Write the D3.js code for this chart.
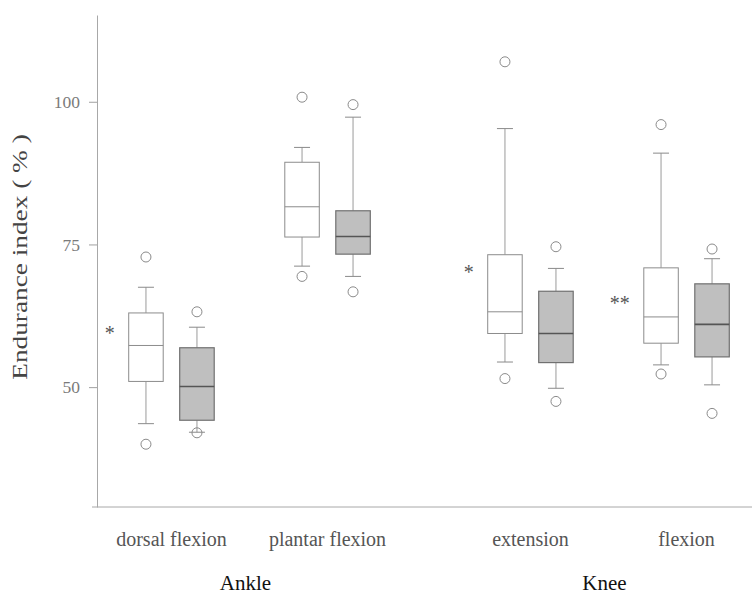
<!DOCTYPE html>
<html>
<head>
<meta charset="utf-8">
<script src="https://cdn.jsdelivr.net/npm/d3@7"></script>
<style>
  html, body { margin: 0; padding: 0; background: #fff; }
  svg { display: block; }
</style>
</head>
<body>
<svg id="chart" width="752" height="594"></svg>
<script>
// ---- data ----
const categories = ["dorsal flexion", "plantar flexion", "extension", "flexion"];
const joints = ["Ankle", "Ankle", "Knee", "Knee"];
const jointNames = ["Ankle", "Knee"];
const groups = ["white", "grey"];
const yTicks = [50, 75, 100];
const yTitle = "Endurance index ( % )";

// per category: [lowWhisker, q1, median, q3, highWhisker]
const whiteStats = [
  [43.6, 51.0, 57.3, 63.0, 67.5],
  [71.2, 76.3, 81.6, 89.4, 92.0],
  [54.4, 59.4, 63.2, 73.2, 95.3],
  [53.9, 57.7, 62.3, 70.9, 91.0]
];
const whiteOutliers = [[72.8, 40.0], [100.8, 69.4], [107.0, 51.5], [96.0, 52.3]];

const greyStats = [
  [42.1, 44.2, 50.1, 56.9, 60.5],
  [69.4, 73.3, 76.4, 80.9, 97.3],
  [49.8, 54.3, 59.4, 66.8, 70.8],
  [50.4, 55.3, 61.0, 68.1, 72.5]
];
const greyOutliers = [[63.2, 42.0], [99.5, 66.7], [74.6, 47.5], [74.2, 45.4]];

const starLabels = ["*", "", "*", "**"];
const starValues = [60.0, null, 70.7, 65.3];

// ---- drawing ----
const svg = d3.select("#chart");
const W = 752, H = 594;
const axisX = 97, plotBottom = 507, plotTop = 15;

const y = d3.scaleLinear().domain([29, 115.2]).range([plotBottom, plotTop]);
const xJoint = d3.scaleBand().domain(jointNames).range([70, 788]).padding(0);
const xMove = d3.scalePoint().domain([0, 1]).range([0, xJoint.bandwidth()]).padding(0.65);
const xGroup = d3.scalePoint().domain(groups).range([-25.5, 25.5]);

// index of category within its joint
const withinIdx = categories.map((c, i) => joints.slice(0, i).filter(j => j === joints[i]).length);
const catCenter = i => xJoint(joints[i]) + xMove(withinIdx[i]);

const boxW = 34.5, capW = 16;
const serif = "'Liberation Serif', 'Times New Roman', serif";

// y axis
const yAxis = d3.axisLeft(y).tickValues(yTicks).tickSize(8).tickSizeOuter(0).tickPadding(9);
const gy = svg.append("g").attr("transform", `translate(${axisX},0)`).call(yAxis);
gy.select(".domain").attr("stroke", "#a8a8a8");
gy.selectAll(".tick line").attr("stroke", "#a0a0a0");
gy.selectAll(".tick text")
  .attr("fill", "#7a7a7a")
  .style("font-family", serif)
  .style("font-size", "17.5px");

// x axis baseline
svg.append("line")
  .attr("x1", 92).attr("x2", W)
  .attr("y1", y(29)).attr("y2", y(29))
  .attr("stroke", "#a8a8a8").attr("stroke-width", 1);

// y title
svg.append("text")
  .attr("transform", `translate(27,${(128 + 386) / 2}) rotate(-90) scale(1.3,1)`)
  .attr("text-anchor", "middle")
  .attr("fill", "#444")
  .style("font-family", serif)
  .style("font-size", "21px")
  .text(yTitle);

function drawBoxes(stats, outliers, group) {
  const isGrey = group === "grey";
  const g = svg.append("g");
  stats.forEach((s, i) => {
    const cx = catCenter(i) + xGroup(group);
    const [lo, q1, med, q3, hi] = s;
    const stroke = isGrey ? "#707070" : "#8c8c8c";
    // whiskers
    g.append("line").attr("x1", cx).attr("x2", cx).attr("y1", y(q3)).attr("y2", y(hi))
      .attr("stroke", "#9a9a9a");
    g.append("line").attr("x1", cx).attr("x2", cx).attr("y1", y(q1)).attr("y2", y(lo))
      .attr("stroke", "#9a9a9a");
    g.append("line").attr("x1", cx - capW / 2).attr("x2", cx + capW / 2).attr("y1", y(hi)).attr("y2", y(hi))
      .attr("stroke", "#8a8a8a");
    g.append("line").attr("x1", cx - capW / 2).attr("x2", cx + capW / 2).attr("y1", y(lo)).attr("y2", y(lo))
      .attr("stroke", "#8a8a8a");
    // box
    g.append("rect")
      .attr("x", cx - boxW / 2).attr("width", boxW)
      .attr("y", y(q3)).attr("height", y(q1) - y(q3))
      .attr("fill", isGrey ? "#bfbfbf" : "#fff")
      .attr("stroke", stroke).attr("stroke-width", isGrey ? 1.2 : 1);
    // median
    g.append("line").attr("x1", cx - boxW / 2).attr("x2", cx + boxW / 2).attr("y1", y(med)).attr("y2", y(med))
      .attr("stroke", isGrey ? "#555" : "#8c8c8c").attr("stroke-width", isGrey ? 1.6 : 1);
    // outliers
    outliers[i].forEach(v => {
      g.append("circle").attr("cx", cx).attr("cy", y(v)).attr("r", 5)
        .attr("fill", "none").attr("stroke", "#8a8a8a").attr("stroke-width", 1);
    });
  });
}
drawBoxes(whiteStats, whiteOutliers, "white");
drawBoxes(greyStats, greyOutliers, "grey");

// significance stars
categories.forEach((c, i) => {
  if (!starLabels[i]) return;
  const bx = catCenter(i) + xGroup("white") - boxW / 2;
  svg.append("text")
    .attr("x", bx - 14).attr("y", y(starValues[i]) + 10)
    .attr("text-anchor", "end")
    .attr("fill", "#555")
    .style("font-family", serif)
    .style("font-size", "20px")
    .text(starLabels[i]);
});

// category labels
categories.forEach((c, i) => {
  svg.append("text")
    .attr("x", catCenter(i)).attr("y", 546)
    .attr("text-anchor", "middle")
    .attr("fill", "#555")
    .style("font-family", serif)
    .style("font-size", "20px")
    .text(c);
});

// joint labels
jointNames.forEach(j => {
  svg.append("text")
    .attr("x", xJoint(j) + xJoint.bandwidth() / 2 - 4).attr("y", 590)
    .attr("text-anchor", "middle")
    .attr("fill", "#111")
    .style("font-family", serif)
    .style("font-size", "21px")
    .text(j);
});
</script>
</body>
</html>
